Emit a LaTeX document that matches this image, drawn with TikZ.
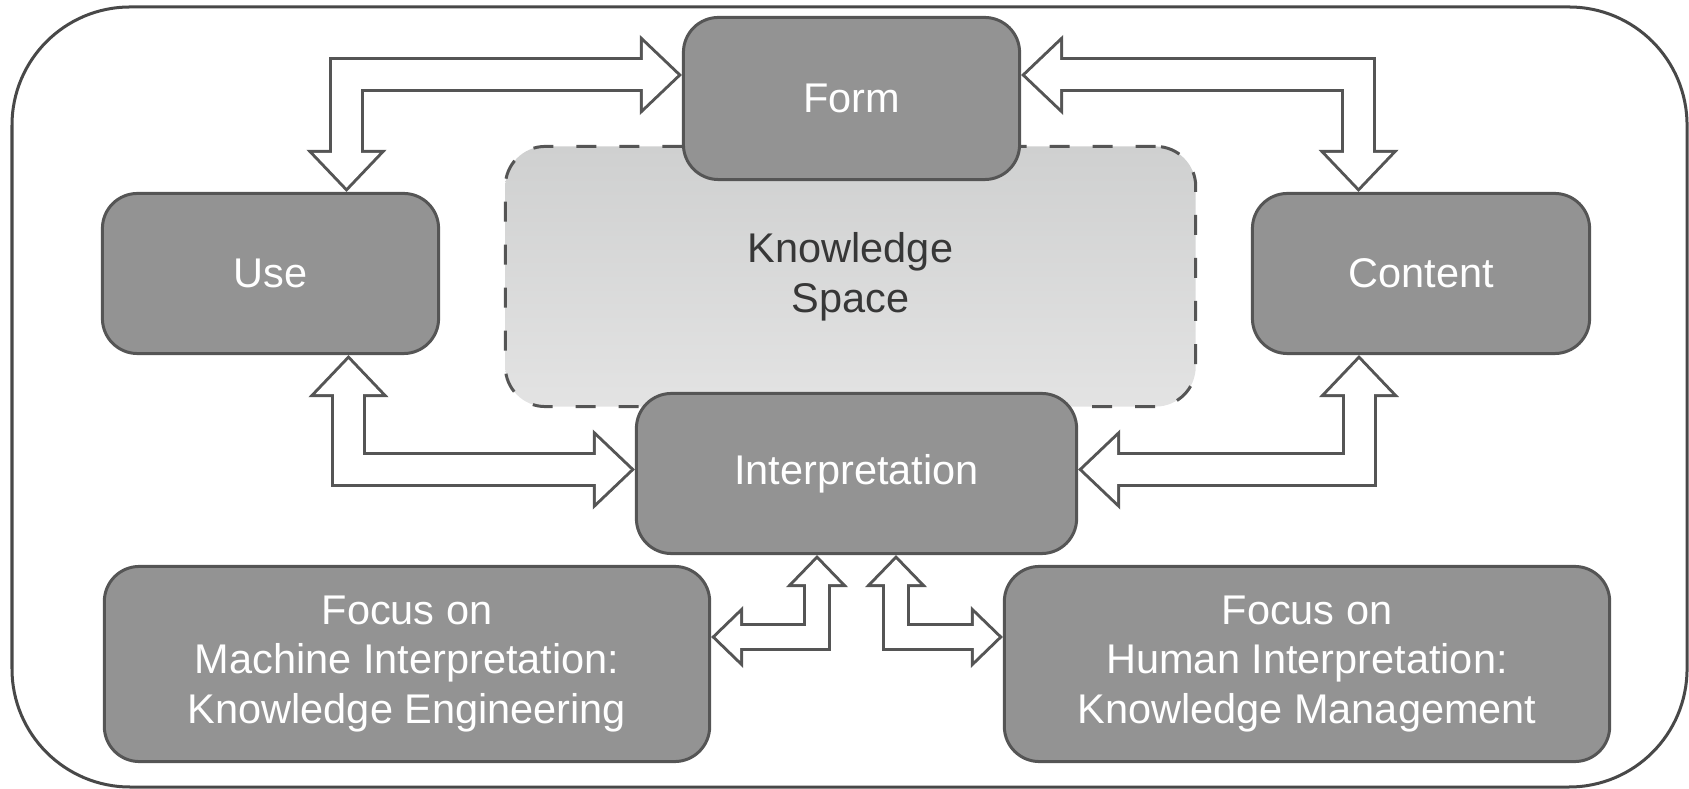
\documentclass[tikz,border=0pt]{standalone}
\usepackage{fontspec}
\setmainfont{Liberation Sans}
\usetikzlibrary{arrows.meta,calc}
\definecolor{boxgray}{RGB}{147,147,147}
\definecolor{edgegray}{RGB}{85,85,85}
\definecolor{spacetop}{RGB}{207,208,208}
\definecolor{spacebot}{RGB}{227,227,227}
\definecolor{spacetext}{RGB}{55,55,55}
\tikzset{
  greybox/.style={draw=edgegray,fill=boxgray,line width=0.03cm,rounded corners=0.35cm,
    text=white,align=center,inner sep=0pt,font=\fontsize{11.8}{14.2}\selectfont},
  spacebox/.style={draw=edgegray,line width=0.03cm,dash pattern=on 0.2cm off 0.23cm,
    rounded corners=0.4cm,top color=spacetop,bottom color=spacebot,text=spacetext,
    align=center,inner sep=0pt,font=\fontsize{11.8}{14.2}\selectfont},
  frame/.style={draw=edgegray!85!black,line width=0.03cm,rounded corners=1.18cm},
  bigarrow/.style={draw=edgegray,line width=0.35cm,
    {Triangle[width=0.8cm,length=0.42cm,line width=0pt]}-{Triangle[width=0.8cm,length=0.42cm,line width=0pt]},
    postaction={draw=white,line width=0.29cm,shorten <=0.0435cm,shorten >=0.0435cm,
      {Triangle[width=0.66cm,length=0.3465cm,line width=0pt]}-{Triangle[width=0.66cm,length=0.3465cm,line width=0pt]}}},
  smallarrow/.style={draw=edgegray,line width=0.28cm,
    {Triangle[width=0.62cm,length=0.32cm,line width=0pt]}-{Triangle[width=0.62cm,length=0.32cm,line width=0pt]},
    postaction={draw=white,line width=0.22cm,shorten <=0.043cm,shorten >=0.043cm,
      {Triangle[width=0.478cm,length=0.247cm,line width=0pt]}-{Triangle[width=0.478cm,length=0.247cm,line width=0pt]}}}
}
\begin{document}
\begin{tikzpicture}[x=0.01cm,y=-0.01cm]
\useasboundingbox (0,0) rectangle (1689,789);
\draw[frame] (12,7) rectangle (1687,787);

\node (space) at (850.5,276.5)[spacebox,minimum width=6.9cm,minimum height=2.6cm]{Knowledge\\Space};
\node (form) at (851.5,98.5)[greybox,minimum width=3.36cm,minimum height=1.62cm]{Form};
\node (use) at (270.5,273.5)[greybox,minimum width=3.36cm,minimum height=1.6cm]{Use};
\node (content) at (1421,273.5)[greybox,minimum width=3.37cm,minimum height=1.6cm]{Content};
\node (interp) at (856.5,473.5)[greybox,minimum width=4.4cm,minimum height=1.6cm]{Interpretation};
\node (machine) at (407,664)[greybox,minimum width=6.05cm,minimum height=1.95cm]{Focus on\\Machine Interpretation:\\Knowledge Engineering};
\node (human) at (1307,664)[greybox,minimum width=6.05cm,minimum height=1.95cm]{Focus on\\Human Interpretation:\\Knowledge Management};

\foreach \s/\dx/\t/\dy in {use.north/76/form.west/-23.5,content.north/-62.5/form.east/-23.5,
  use.south/78/interp.west/-4,content.south/-62/interp.east/-4}
{
   \draw[bigarrow] ($(\s)+(\dx,0)$) |- ($(\t)+(0,\dy)$);
}

\foreach \t/\dx in {machine.east/-39.5,human.west/39.5}
{
   \draw[smallarrow] ($(interp.south)+(\dx,0)$) |- ($(\t)+(0,-27)$);
}
\end{tikzpicture}
\end{document}
